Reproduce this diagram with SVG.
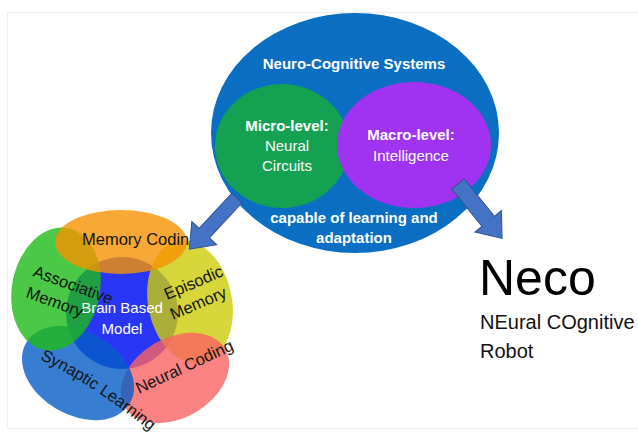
<svg xmlns="http://www.w3.org/2000/svg" width="638" height="434" viewBox="0 0 638 434">
  <style>
    text { font-family: "Liberation Sans", Arial, sans-serif; }
    .w { fill: #ffffff; font-size: 15px; text-anchor: middle; }
    .b { font-weight: bold; }
    .lbl { fill: #141414; font-size: 16.5px; }
    .petal { opacity: 0.8; }
    .arrow { fill: #4472c4; stroke: #2f528f; stroke-width: 1; }
  </style>
  <defs>
    <path id="synaptic-path" d="M 40 359 Q 100 388 168 446" fill="none"/>
  </defs>

  <rect x="0" y="0" width="638" height="434" fill="#ffffff"/>
  <!-- faint slide frame -->
  <rect x="7.5" y="12.5" width="640" height="416" fill="none" stroke="#eeeeee" stroke-width="1"/>

  <!-- Neuro-cognitive systems overview -->
  <g id="neuro-cognitive">
    <ellipse cx="355" cy="133" rx="144" ry="120" fill="#0a6fc2"/>
    <text class="w b" x="354" y="69">Neuro-Cognitive Systems</text>
    <text class="w b" x="354" y="223">capable of learning and</text>
    <text class="w b" x="354" y="243">adaptation</text>
  </g>
  <g id="micro-level">
    <ellipse cx="282" cy="146" rx="67" ry="62" fill="#14a152"/>
    <text class="w b" x="287" y="131">Micro-level:</text>
    <text class="w" x="287" y="151">Neural</text>
    <text class="w" x="287" y="171">Circuits</text>
  </g>
  <g id="macro-level">
    <ellipse cx="414" cy="145" rx="77" ry="63" fill="#a032f2"/>
    <text class="w b" x="411" y="140">Macro-level:</text>
    <text class="w" x="411" y="161">Intelligence</text>
  </g>

  <!-- Brain based model -->
  <g id="brain-based-model">
    <circle cx="122" cy="313" r="56" fill="#2a36f6"/>
  </g>
  <g id="episodic-memory">
    <ellipse class="petal" cx="190" cy="302" rx="42" ry="62" transform="rotate(-11 190 302)" fill="#cdcd0b"/>
  </g>
  <g id="neural-coding">
    <ellipse class="petal" cx="175" cy="378" rx="58" ry="40" transform="rotate(-30 175 378)" fill="#f96363"/>
  </g>
  <g id="synaptic-learning">
    <ellipse class="petal" cx="78" cy="373" rx="60" ry="42" transform="rotate(30 78 373)" fill="#055cc7"/>
  </g>
  <g id="associative-memory">
    <ellipse class="petal" cx="56" cy="289" rx="44" ry="62" transform="rotate(11 56 289)" fill="#1eba18"/>
  </g>
  <g id="memory-coding">
    <ellipse class="petal" cx="121" cy="242" rx="66" ry="32" fill="#f69201"/>
  </g>

  <!-- model labels -->
  <g id="model-labels">
    <text class="w" x="122" y="313">Brain Based</text>
    <text class="w" x="122" y="334">Model</text>
    <text class="lbl" x="82" y="245">Memory Codin</text>
    <text class="lbl" transform="translate(32 276) rotate(20)">Associative</text>
    <text class="lbl" transform="translate(25 297) rotate(20)">Memory</text>
    <text class="lbl" transform="translate(167 300) rotate(-23)">Episodic</text>
    <text class="lbl" transform="translate(173 320) rotate(-23)">Memory</text>
    <text class="lbl"><textPath href="#synaptic-path">Synaptic Learning</textPath></text>
    <text class="lbl" transform="translate(139 394) rotate(-25)">Neural Coding</text>
  </g>

  <!-- Neco robot -->
  <g id="neco">
    <text x="479" y="295" font-size="50" fill="#000000">Neco</text>
    <text x="480" y="329" font-size="20" fill="#111111">NEural COgnitive</text>
    <text x="480" y="358" font-size="20" fill="#111111">Robot</text>
  </g>

  <!-- connectors: block arrows -->
  <g id="connectors">
    <polygon class="arrow" points="0,-7 48,-7 48,-17 70,0 48,17 48,7 0,7" transform="translate(237 198) rotate(133)"/>
    <polygon class="arrow" points="0,-8 48,-8 48,-17 70,0 48,17 48,8 0,8" transform="translate(458 184) rotate(51)"/>
  </g>
</svg>
